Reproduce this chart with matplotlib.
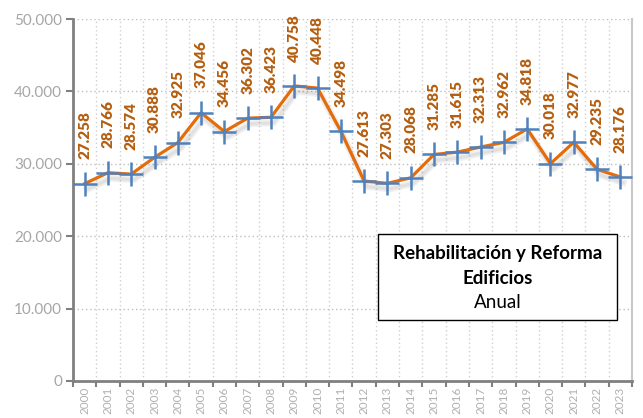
import matplotlib
matplotlib.use("Agg")
import matplotlib.pyplot as plt
import matplotlib.patheffects as pe
from matplotlib.ticker import FixedLocator, FuncFormatter

years = [str(y) for y in range(2000, 2024)]
values = [27258, 28766, 28574, 30888, 32925, 37046, 34456, 36302, 36423, 40758,
          40448, 34498, 27613, 27303, 28068, 31285, 31615, 32313, 32962, 34818,
          30018, 32977, 29235, 28176]
yticks = [0, 10000, 20000, 30000, 40000, 50000]
title_lines = ["Rehabilitación y Reforma", "Edificios", "Anual"]

fig = plt.figure(figsize=(6.43, 4.18), dpi=100)
ax = fig.add_axes([73/643, 1-381/418, (632-73)/643, (381-19)/418])

x = list(range(len(years)))
ax.plot(x, values, color="#E46C0A", lw=2.3, zorder=3,
        path_effects=[pe.SimpleLineShadow(offset=(2, -4), shadow_color="#000000", alpha=0.06, rho=1, linewidth=5),
                      pe.SimpleLineShadow(offset=(2, -4), shadow_color="#000000", alpha=0.06, rho=1, linewidth=2.5),
                      pe.Normal()])
ax.plot(x, values, ls="none", marker="+", ms=17, mew=1.8, color="#4F81BD", zorder=4)

for xi, v in zip(x, values):
    ax.annotate(f"{v/1000:.3f}", (xi, v), xytext=(0, 17.5), textcoords="offset points",
                rotation=90, ha="center", va="bottom", color="#B55E10",
                fontsize=11, fontweight="heavy", family="Lato")

ax.set_xlim(-0.5, len(years) - 0.5)
ax.set_ylim(0, 50000)
ax.set_xticks(x)
ax.set_xticklabels(years, rotation=90, fontsize=8.5, color="#B0B0B0", family="Lato")
ax.xaxis.set_minor_locator(FixedLocator([i + 0.5 for i in range(-1, len(years))]))
ax.tick_params(axis="x", which="major", length=0, pad=4)
ax.tick_params(axis="x", which="minor", length=4, width=1.5, color="#808080")
ax.set_yticks(yticks)
ax.yaxis.set_major_formatter(FuncFormatter(lambda v, p: "0" if v == 0 else f"{int(v/1000)}.000"))
ax.tick_params(axis="y", length=5, width=1.5, color="#808080", labelsize=11, labelcolor="#A6A6A6", pad=3)
for t in ax.get_yticklabels():
    t.set_family("Lato")

ax.grid(axis="y", which="major", ls=(0, (1, 2)), color="#BFBFBF", lw=1)
ax.grid(axis="x", which="minor", ls=(0, (1, 2)), color="#D0D0D0", lw=1)
ax.set_axisbelow(True)

for s in ["left", "bottom"]:
    ax.spines[s].set_color("#808080")
    ax.spines[s].set_linewidth(2)
ax.spines["right"].set_color("#C8C8C8")
ax.spines["right"].set_linewidth(1.5)
ax.spines["top"].set_visible(False)

box_x0, box_y0, box_x1, box_y1 = 378, 234, 617, 320
fig.patches.append(plt.Rectangle((box_x0/643, 1-box_y1/418), (box_x1-box_x0)/643, (box_y1-box_y0)/418,
                                 transform=fig.transFigure, facecolor="white", edgecolor="black", lw=1, zorder=10))
cx = (box_x0 + box_x1) / 2 / 643
fig.text(cx, 1-254/418, title_lines[0], ha="center", va="center", fontsize=13.5, fontweight="bold", family="Lato", zorder=11)
fig.text(cx, 1-278/418, title_lines[1], ha="center", va="center", fontsize=13.5, fontweight="bold", family="Lato", zorder=11)
fig.text(cx, 1-302/418, title_lines[2], ha="center", va="center", fontsize=13.5, family="Lato", zorder=11)

fig.savefig("out.png", dpi=100)
